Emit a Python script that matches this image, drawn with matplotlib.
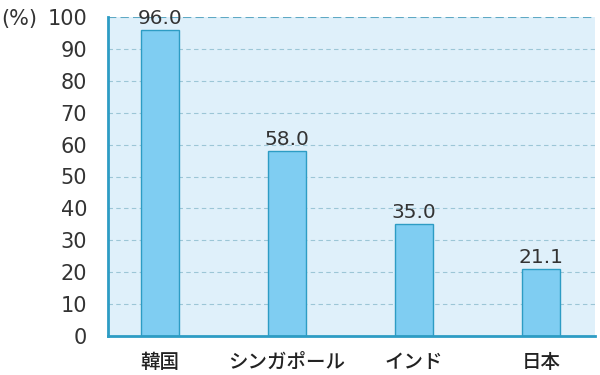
import matplotlib
matplotlib.use('Agg')
import matplotlib.pyplot as plt

plt.rcParams['font.family'] = ['DejaVu Sans']
jp_font = ['Noto Sans CJK JP', 'DejaVu Sans']

categories = ['韓国', 'シンガポール', 'インド', '日本']
values = [96.0, 58.0, 35.0, 21.1]
yticks = [0, 10, 20, 30, 40, 50, 60, 70, 80, 90, 100]

fig = plt.figure(figsize=(6, 3.75), dpi=100)
ax = fig.add_axes([108/600, 1 - 336/375, 487/600, 319/375])
ax.set_facecolor('#dff0fa')

x = range(len(categories))
ax.bar(x, values, width=0.3, color='#7fcdf2', edgecolor='#2d9cc4', linewidth=1.0, zorder=3)
for xi, v in zip(x, values):
    ax.text(xi, v + 0.6, f'{v:.1f}', ha='center', va='bottom', fontsize=14.5, color='#333333', zorder=4)

for t in yticks[1:-1]:
    ax.axhline(t, color='#9cc6d6', linestyle=(0, (4, 3)), linewidth=0.8, zorder=1)
ax.axhline(100, color='#5fa9c4', linestyle=(0, (4, 2)), linewidth=1.5, zorder=1)

ax.set_xlim(-0.41, 3.425)
ax.set_ylim(0, 100)
ax.set_yticks(yticks)
ax.set_xticks(list(x))
ax.set_xticklabels(categories, fontsize=14, color='#222222', family=jp_font, fontweight='medium')
ax.tick_params(axis='y', length=0, pad=15, labelsize=15, labelcolor='#333333')
ax.tick_params(axis='x', length=0, pad=12)

for s in ['top', 'right']:
    ax.spines[s].set_visible(False)
for s in ['left', 'bottom']:
    ax.spines[s].set_color('#2d9cc4')
    ax.spines[s].set_linewidth(2)
    ax.spines[s].set_zorder(5)

fig.text(1/600, 1 - 19/375, '(%)', fontsize=15, color='#333333', va='center', ha='left')

fig.savefig('out.png', dpi=100)
